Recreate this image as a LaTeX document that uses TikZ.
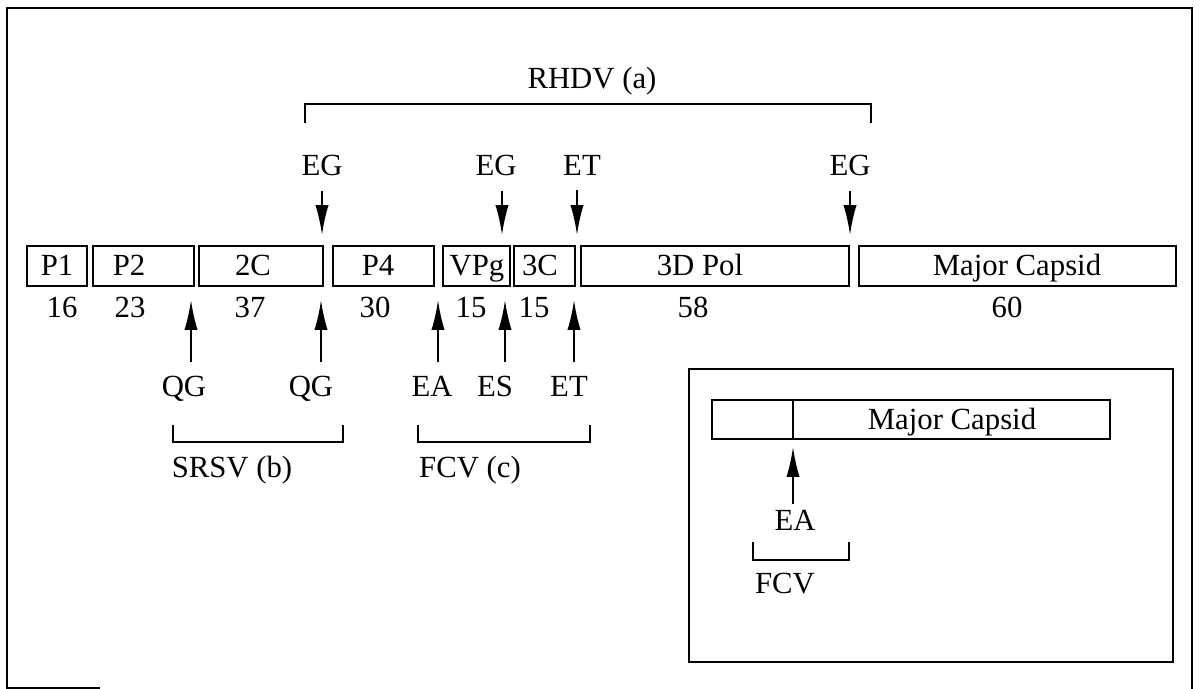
\documentclass[tikz,border=0pt]{standalone}
\usepackage{fontspec}
\setmainfont{Liberation Serif}
\usetikzlibrary{arrows.meta}

\tikzset{
  seg/.style={draw, line width=1.1pt, minimum height=0.8cm, inner sep=0pt},
  lbl/.style={anchor=base, yshift=-0.2cm, inner sep=0pt, font=\fontsize{17.5}{20}\selectfont},
  cut/.style={lbl, inner ysep=8pt},
  site/.style={-{Latex[length=17pt,width=7.5pt]}, line width=1.1pt},
  brak/.style={line width=1.1pt}
}

\begin{document}
\begin{tikzpicture}[x={(0.02cm,0)}, y={(0,-0.02cm)}]
        \useasboundingbox (0,0) rectangle (1200,689);
        % ==== FRAME ====
        \draw[line width=1.1pt] (7,689) -- (7,8) -- (1192,8) -- (1192,689);
        \draw[line width=1.1pt] (7,688) -- (100,688);

        % ==== GENOME SEGMENTS ====
        \node[seg, minimum width=1.2cm] (p1) at (57,266) {};
        \node[seg, minimum width=2.02cm] (p2) at (143.5,266) {};
        \node[seg, minimum width=2.48cm] (c2) at (261,266) {};
        \node[seg, minimum width=2.02cm] (p4) at (383.5,266) {};
        \node[seg, minimum width=1.34cm] (vpg) at (476.5,266) {};
        \node[seg, minimum width=1.22cm] (c3) at (544.5,266) {};
        \node[seg, minimum width=5.36cm] (pol) at (715,266) {};
        \node[seg, minimum width=6.34cm] (cap) at (1017.5,266) {};
        \node[lbl] (tp1) at (57,266) {P1};
        \node[lbl] (tp2) at (129,266) {P2};
        \node[lbl] (tc2) at (253,266) {2C};
        \node[lbl] (tp4) at (378,266) {P4};
        \node[lbl] (tvpg) at (477,266) {VPg};
        \node[lbl] (tc3) at (540,266) {3C};
        \node[lbl] (tpol) at (700,266) {3D Pol};
        \node[lbl] (tcap) at (1017,266) {Major Capsid};

        % ==== SIZES ====
        \node[lbl] (kd1) at (62,308) {16};
        \node[lbl] (kd2) at (130,308) {23};
        \node[lbl] (kd3) at (250,308) {37};
        \node[lbl] (kd4) at (375,308) {30};
        \node[lbl] (kd5) at (471,308) {15};
        \node[lbl] (kd6) at (534,308) {15};
        \node[lbl] (kd7) at (693,308) {58};
        \node[lbl] (kd8) at (1007,308) {60};

        % ==== RHDV (a) CLEAVAGE SITES ====
        \coordinate (d1) at (322,235);
        \coordinate (d2) at (502,235);
        \coordinate (d3) at (577,235);
        \coordinate (d4) at (850,235);
        \node[cut] (eg1) at (322,166) {EG};
        \node[cut] (eg2) at (496,166) {EG};
        \node[cut] (et1) at (582,166) {ET};
        \node[cut] (eg3) at (850,166) {EG};
        \draw[site] (eg1.south -| d1) -- (d1);
        \draw[site] (eg2.south -| d2) -- (d2);
        \draw[site] (et1.south -| d3) -- (d3);
        \draw[site] (eg3.south -| d4) -- (d4);
        \draw[brak] (305,123) -- (305,104) -- (871,104) -- (871,123);
        \node[lbl] (rhdv) at (592,79) {RHDV (a)};

        % ==== SRSV (b) AND FCV (c) CLEAVAGE SITES ====
        \coordinate (u1) at (191,300);
        \coordinate (u2) at (321,300);
        \coordinate (u3) at (438,300);
        \coordinate (u4) at (505,300);
        \coordinate (u5) at (574,300);
        \node[cut] (qg1) at (184,387) {QG};
        \node[cut] (qg2) at (311,387) {QG};
        \node[cut] (ea1) at (432,387) {EA};
        \node[cut] (es1) at (495,387) {ES};
        \node[cut] (et2) at (569,387) {ET};
        \draw[site] (qg1.north -| u1) -- (u1);
        \draw[site] (qg2.north -| u2) -- (u2);
        \draw[site] (ea1.north -| u3) -- (u3);
        \draw[site] (es1.north -| u4) -- (u4);
        \draw[site] (et2.north -| u5) -- (u5);
        \draw[brak] (173,425) -- (173,442) -- (343,442) -- (343,425);
        \draw[brak] (418,425) -- (418,442) -- (590,442) -- (590,425);
        \node[lbl] (srsv) at (232,467) {SRSV (b)};
        \node[lbl] (fcv) at (470,467) {FCV (c)};

        % ==== INSET: CAPSID PRECURSOR ====
        \draw[line width=1.1pt] (689,369) rectangle (1173,662);
        \node[seg, minimum width=7.96cm, minimum height=0.78cm] (capi) at (911,419.5) {};
        \draw[line width=1.1pt] (793,400) -- (793,439);
        \node[lbl] (tcapi) at (952,419) {Major Capsid};
        \coordinate (u6) at (793,447);
        \node[lbl, inner ysep=3pt] (ea2) at (795,520) {EA};
        \draw[site] (ea2.north -| u6) -- (u6);
        \draw[brak] (753,542) -- (753,560) -- (849,560) -- (849,542);
        \node[lbl] (fcvi) at (785,583) {FCV};
\end{tikzpicture}
\end{document}
